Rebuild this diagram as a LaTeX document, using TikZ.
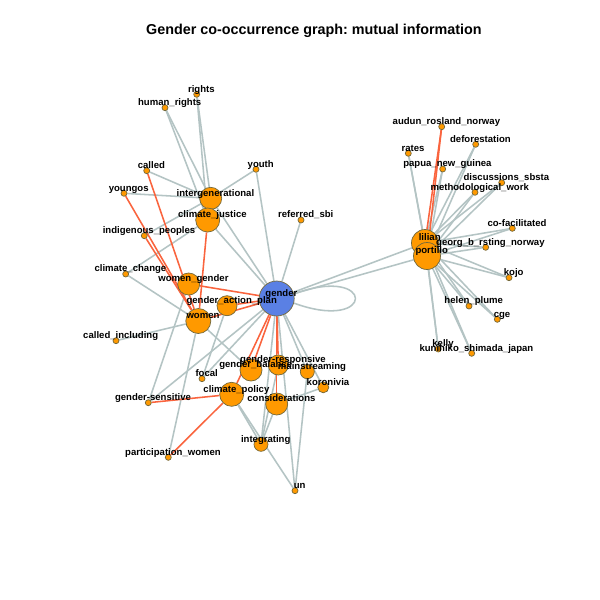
\documentclass[tikz,border=0pt]{standalone}
\usepackage{fontspec}
\setmainfont{Liberation Sans}
\frenchspacing
\pgfdeclarelayer{bg}
\pgfdeclarelayer{fg}
\pgfsetlayers{bg,main,fg}
\definecolor{vorange}{RGB}{255,153,0}
\definecolor{vblue}{RGB}{90,128,228}
\definecolor{vborder}{RGB}{115,105,60}
\definecolor{egray}{RGB}{180,196,196}
\definecolor{ered}{RGB}{250,100,62}
\tikzset{
  vert/.style={circle, draw=vborder, line width=0.5pt, inner sep=0pt, fill=vorange},
  lbl/.style={font=\fontsize{6.8pt}{8pt}\selectfont\bfseries, inner sep=0pt, anchor=base},
  ttl/.style={font=\fontsize{10.2pt}{12pt}\selectfont\bfseries, inner sep=0pt, anchor=base},
  ge/.style={draw=egray, line width=1.1pt},
  re/.style={draw=ered, line width=1.1pt},
}
\newcommand{\vx}[6]{%
  \node[vert, minimum size=#4cm, #6] (#1) at (#2,#3) {};
  \begin{pgfonlayer}{fg}\node[lbl] (#1-l) at (#2+4.7,#3-2.2) {#5};\end{pgfonlayer}}
\begin{document}
\begin{tikzpicture}[x=0.025cm,y=-0.025cm]
\useasboundingbox (0,0) rectangle (600,600);
\node[ttl] (title) at (314,34) {Gender co-occurrence graph: mutual information};
% small nodes
\vx{rights}{196.7}{94.3}{0.15}{rights}{}
\vx{humanrights}{165}{107.7}{0.15}{human\_rights}{}
\vx{called}{146.7}{170.7}{0.15}{called}{}
\vx{youth}{256}{169.3}{0.15}{youth}{}
\vx{youngos}{124}{193.3}{0.15}{youngos}{}
\vx{referred}{301}{220}{0.15}{referred\_sbi}{}
\vx{indigenous}{144.3}{235.7}{0.15}{indigenous\_peoples}{}
\vx{climatechange}{125.7}{274}{0.15}{climate\_change}{}
\vx{calledincl}{116}{340.7}{0.15}{called\_including}{}
\vx{focal}{202}{378.7}{0.15}{focal}{}
\vx{gsensitive}{148.3}{402.7}{0.15}{gender-sensitive}{}
\vx{participation}{168.3}{457.3}{0.15}{participation\_women}{}
\vx{un}{295}{490.7}{0.15}{un}{}
% big nodes
\vx{intergen}{210.7}{198.3}{0.55}{intergenerational}{}
\vx{cjustice}{207.7}{220}{0.6}{climate\_justice}{}
\vx{womengender}{188.7}{284}{0.55}{women\_gender}{}
\vx{women}{198.3}{321}{0.625}{women}{}
\vx{gap}{227}{305.7}{0.5}{gender\_action\_plan}{}
\vx{gbalance}{251}{370}{0.55}{gender\_balance}{}
\vx{gresp}{278.3}{365}{0.5}{gender-responsive}{}
\vx{mainstream}{307.3}{371.7}{0.35}{mainstreaming}{}
\vx{koronivia}{323.3}{387.3}{0.275}{koronivia}{}
\vx{cpolicy}{231.7}{394.3}{0.6}{climate\_policy}{}
\vx{considerations}{276.7}{404}{0.55}{considerations}{}
\vx{integrating}{261}{444.3}{0.35}{integrating}{}
\vx{gender}{276.7}{298.5}{0.875}{gender}{fill=vblue}
% right cluster
\vx{audun}{441.7}{126.7}{0.15}{audun\_rosland\_norway}{}
\vx{deforestation}{475.7}{144.3}{0.15}{deforestation}{}
\vx{rates}{408.3}{153.3}{0.15}{rates}{}
\vx{papua}{442.7}{169}{0.15}{papua\_new\_guinea}{}
\vx{discussions}{501.7}{182.7}{0.15}{discussions\_sbsta}{}
\vx{method}{475}{192.3}{0.15}{methodological\_work}{}
\vx{cofac}{512.3}{228.3}{0.15}{co-facilitated}{}
\vx{georg}{485.7}{247.3}{0.15}{georg\_b\_rsting\_norway}{}
\vx{kojo}{509}{277.7}{0.15}{kojo}{}
\vx{helen}{469}{306}{0.15}{helen\_plume}{}
\vx{cge}{497.3}{319.3}{0.15}{cge}{}
\vx{kelly}{438.3}{349}{0.15}{kelly}{}
\vx{kunihiko}{471.7}{353.3}{0.15}{kunihiko\_shimada\_japan}{}
\vx{lilian}{425}{243}{0.675}{lilian}{}
\vx{portillo}{427}{256}{0.675}{portillo}{}
\begin{pgfonlayer}{bg}
\fill[white] (0,0) rectangle (600,600);
% left cluster gray
\foreach \a/\b in {rights/intergen, rights/cjustice, humanrights/intergen, humanrights/cjustice,
  called/intergen, youngos/intergen, youth/intergen, youth/gender, indigenous/intergen,
  climatechange/cjustice, climatechange/women, cjustice/gender, intergen/gender, referred/gender,
  calledincl/women, gsensitive/womengender, participation/women, women/gbalance,
  focal/gender, focal/gap, gender/mainstream, gender/koronivia, gender/un, gender/integrating,
  gender/gsensitive, cpolicy/integrating, cpolicy/un, considerations/integrating,
  gresp/integrating, considerations/koronivia, mainstream/un,
  lilian/gender, portillo/gender}
  \draw[ge] (\a) -- (\b);
\foreach \a in {deforestation, rates, papua, discussions, method, cofac, georg, kojo, helen, cge, kelly, kunihiko}
  {\draw[ge] (\a) -- (lilian); \draw[ge] (\a) -- (portillo);}
\draw[ge] (gender.15) .. controls +(82,-30) and +(82,30) .. (gender.-15);
% red
\foreach \a/\b in {called/women, youngos/women, indigenous/women, cjustice/women,
  womengender/gender, women/gender, gap/gender, gender/gbalance, gender/gresp,
  gender/considerations, gender/cpolicy, gsensitive/cpolicy, participation/cpolicy,
  audun/lilian, audun/portillo}
  \draw[re] (\a) -- (\b);
\end{pgfonlayer}
\end{tikzpicture}
\end{document}
